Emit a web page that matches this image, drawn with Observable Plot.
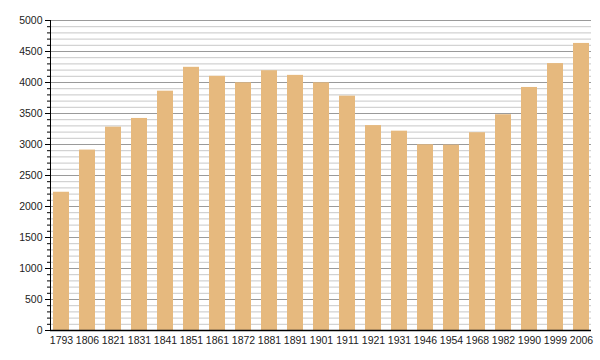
<!DOCTYPE html>
<html>
<head>
<meta charset="utf-8">
<script src="https://cdn.jsdelivr.net/npm/d3@7"></script>
<script src="https://cdn.jsdelivr.net/npm/@observablehq/plot@0.6"></script>
<style>
  body { margin: 0; background: #fff; }
  #chart { width: 600px; height: 360px; }
</style>
</head>
<body>
<div id="chart"></div>
<script>
const years = ["1793","1806","1821","1831","1841","1851","1861","1872","1881","1891","1901","1911","1921","1931","1946","1954","1968","1982","1990","1999","2006"];
const population = [2230, 2910, 3280, 3420, 3860, 4245, 4100, 3995, 4190, 4115, 3995, 3780, 3305, 3215, 2995, 2990, 3190, 3480, 3920, 4305, 4630];
const majorTicks = d3.range(0, 5001, 500);
const minorTicks = d3.range(0, 5001, 100).filter(v => v % 500 !== 0);

const data = years.map((y, i) => ({year: y, value: population[i]}));

const chart = Plot.plot({
  width: 600,
  height: 360,
  marginTop: 20,
  marginBottom: 30,
  marginLeft: 50,
  marginRight: 9,
  style: {fontFamily: "'Liberation Sans', Arial, sans-serif", fontSize: "10.5px", color: "#222", background: "#fff"},
  x: {domain: years, paddingInner: 0.39, paddingOuter: 0.03, label: null},
  y: {domain: [0, 5000], label: null},
  marks: [
    Plot.ruleY(minorTicks, {stroke: "#c8c8c8", strokeWidth: 1}),
    Plot.ruleY(majorTicks, {stroke: "#9a9a9a", strokeWidth: 1}),
    Plot.barY(data, {x: "year", y: "value", fill: "#e6b97e"}),
    Plot.axisY({ticks: minorTicks, tickSize: 3, tickFormat: null, text: null, stroke: "#000"}),
    Plot.axisY({ticks: majorTicks, tickSize: 5, tickPadding: 3, tickFormat: d => String(d), stroke: "#000", label: null}),
    Plot.axisX({tickSize: 0, tickPadding: 6, label: null}),
    Plot.frame({anchor: "left", stroke: "#000"}),
    Plot.ruleY([0], {stroke: "#000", strokeWidth: 1.5})
  ]
});
document.getElementById("chart").appendChild(chart);
</script>
</body>
</html>
